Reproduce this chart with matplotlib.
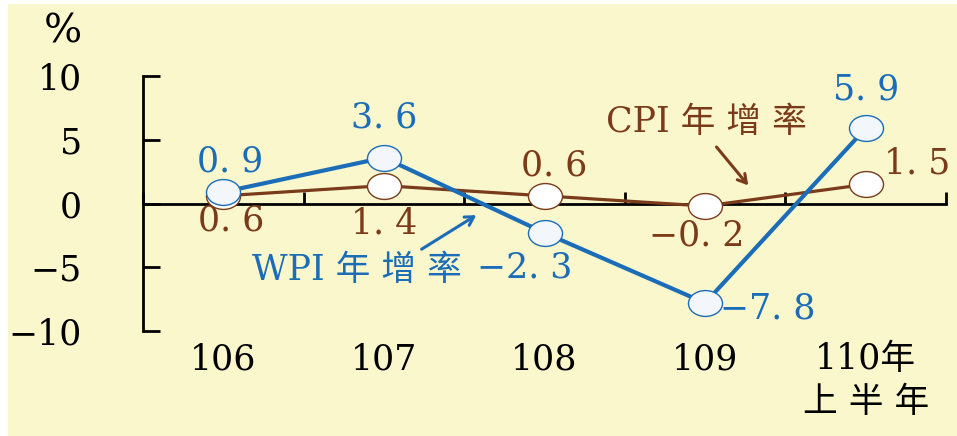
import numpy as np
import matplotlib
matplotlib.use("Agg")
import matplotlib.pyplot as plt
from matplotlib.path import Path
from matplotlib.patches import Rectangle

# annual growth rates (%)
periods = ["106", "107", "108", "109", "110年\n上 半 年"]
wpi = [0.9, 3.6, -2.3, -7.8, 5.9]
cpi = [0.6, 1.4, 0.6, -0.2, 1.5]

# label offsets in points (dx, dy)
wpi_offsets = [(5, 22), (0, 29), (-14, -25), (45, -4), (0, 28)]
cpi_offsets = [(6, -18), (0, -27), (7, 22), (-6, -21), (37, 15)]

yticks = [10, 5, 0, -5, -10]

blue = "#1B6DB7"
brown = "#7A3B1B"
bg = "#FBF7CC"
fonts = ["DejaVu Serif", "Noto Sans CJK TC"]
fs = 25

plt.rcParams["font.family"] = fonts


def fmt(v):
    s = f"{abs(v):.1f}".replace(".", ". ")
    return ("\u2212" if v < 0 else "") + s


# wide ellipse marker
circ = Path.unit_circle()
ellipse = Path(circ.vertices * np.array([1.0, 0.76]), circ.codes)

fig = plt.figure(figsize=(9.57, 4.36), dpi=100)
fig.patch.set_facecolor("white")
fig.patches.append(Rectangle((8 / 957, 0), 1, 1 - 4 / 436, transform=fig.transFigure,
                             facecolor=bg, edgecolor="none", zorder=-10))

ax = fig.add_axes([143 / 957, (436 - 331) / 436, (946 - 143) / 957, 255 / 436])
ax.set_facecolor("none")

x = np.arange(len(periods))
ax.plot(x, cpi, color=brown, lw=2.3, marker=ellipse, markersize=24.5,
        markerfacecolor="white", markeredgecolor=brown, markeredgewidth=1.0, zorder=3)
ax.plot(x, wpi, color=blue, lw=3.0, marker=ellipse, markersize=24.5,
        markerfacecolor="#F3F6FB", markeredgecolor=blue, markeredgewidth=1.0, zorder=4)

for xi, v, off in zip(x, wpi, wpi_offsets):
    ax.annotate(fmt(v), (xi, v), xytext=off, textcoords="offset points",
                ha="center", va="center", color=blue, fontsize=fs, zorder=6)
for xi, v, off in zip(x, cpi, cpi_offsets):
    ax.annotate(fmt(v), (xi, v), xytext=off, textcoords="offset points",
                ha="center", va="center", color=brown, fontsize=fs, zorder=6)

# series names with arrows
ax.text(3.01, 6.4, "CPI 年 增 率", color=brown, fontsize=fs, ha="center", va="center")
ax.annotate("", xy=(3.28, 1.25), xytext=(3.06, 4.6),
            arrowprops=dict(arrowstyle="->,head_length=0.6,head_width=0.35", color=brown, lw=2.2))
ax.text(0.83, -5.25, "WPI 年 增 率", color=blue, fontsize=fs, ha="center", va="center")
ax.annotate("", xy=(1.59, -0.8), xytext=(1.22, -3.7),
            arrowprops=dict(arrowstyle="->,head_length=0.6,head_width=0.35", color=blue, lw=2.2))

ax.set_xlim(-0.5, len(periods) - 0.5)
ax.set_ylim(-10, 10)

for s in ["top", "right"]:
    ax.spines[s].set_visible(False)
ax.spines["bottom"].set_position(("data", 0))
ax.spines["left"].set_linewidth(2)
ax.spines["bottom"].set_linewidth(2)

ax.set_yticks(yticks)
ax.set_yticklabels([str(t).replace("-", "\u2212") for t in yticks], fontsize=fs)
ax.tick_params(axis="y", direction="in", length=12, width=2, pad=44)

ax.set_xticks(np.arange(len(periods) + 1) - 0.5)
ax.set_xticklabels([])
ax.tick_params(axis="x", direction="in", length=9, width=2)

for xi, lab in zip(x, periods):
    ax.text(xi, -0.045, lab, transform=ax.get_xaxis_transform(), ha="center", va="top",
            fontsize=fs, linespacing=1.3, color="black")

fig.text(63 / 957, 1 - 32 / 436, "%", fontsize=29, ha="center", va="center")

fig.savefig("out.png", dpi=100, facecolor=fig.get_facecolor())
